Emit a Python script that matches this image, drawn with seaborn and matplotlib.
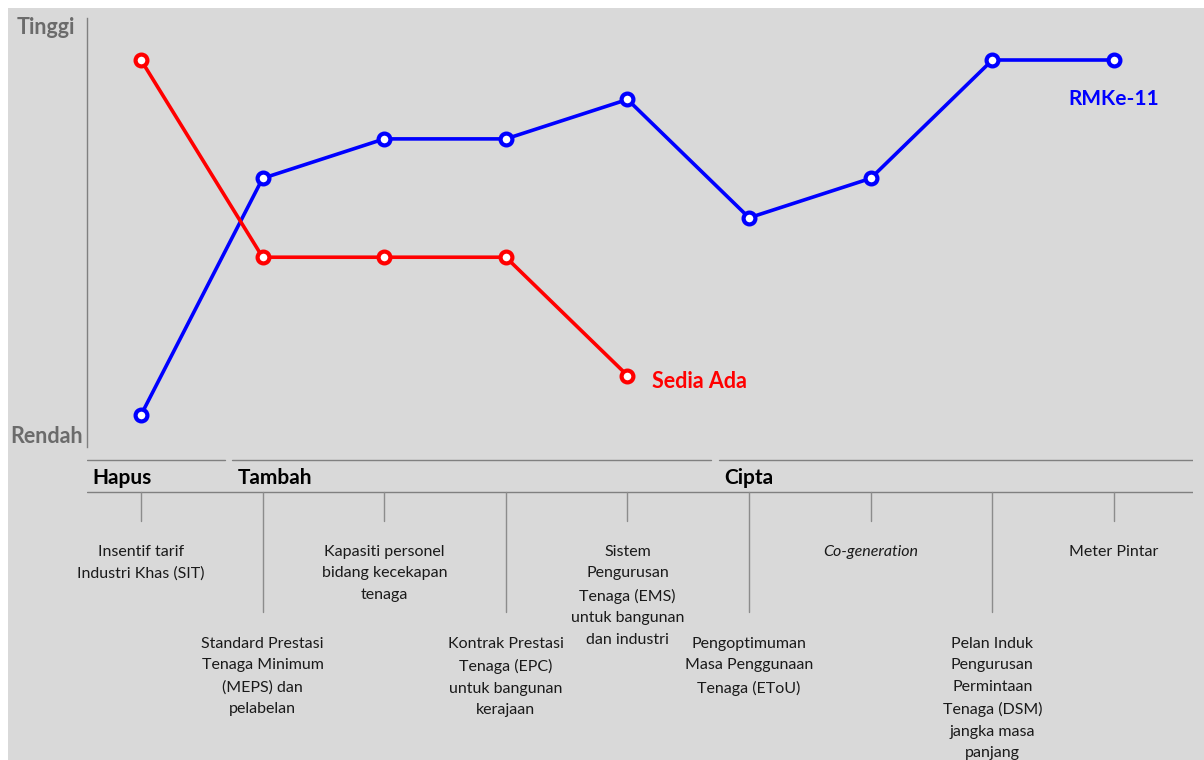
import matplotlib
matplotlib.use("Agg")
import matplotlib.pyplot as plt
import matplotlib.patches as mpatches
import numpy as np
import pandas as pd
import seaborn as sns

# Initiative levels (0 = Rendah, 9 = Tinggi) for each initiative slot
sedia_ada = [9, 4, 4, 4, 1]
rmke_11 = [0, 6, 7, 7, 8, 5, 6, 9, 9]

series_names = ["Sedia Ada", "RMKe-11"]
series_colors = ["#ff0000", "#0000ff"]

level_labels = ["Rendah", "Tinggi"]

group_names = ["Hapus", "Tambah", "Cipta"]
# first and last initiative slot covered by each group
group_spans = [(0, 0), (1, 4), (5, 8)]

initiatives = [
    "Insentif tarif\nIndustri Khas (SIT)",
    "Standard Prestasi\nTenaga Minimum\n(MEPS) dan\npelabelan",
    "Kapasiti personel\nbidang kecekapan\ntenaga",
    "Kontrak Prestasi\nTenaga (EPC)\nuntuk bangunan\nkerajaan",
    "Sistem\nPengurusan\nTenaga (EMS)\nuntuk bangunan\ndan industri",
    "Pengoptimuman\nMasa Penggunaan\nTenaga (EToU)",
    "Co-generation",
    "Pelan Induk\nPengurusan\nPermintaan\nTenaga (DSM)\njangka masa\npanjang",
    "Meter Pintar",
]
italic_items = {"Co-generation"}

sns.set_theme(style="white")
plt.rcParams["font.family"] = ["Lato", "DejaVu Sans"]

W, H = 1204, 760
fig = plt.figure(figsize=(W / 100, H / 100), dpi=100, facecolor="white")

# grey panel behind everything
fig.patches.append(mpatches.Rectangle((8 / W, 0), 1 - 8 / W, 1 - 8 / H,
                                      transform=fig.transFigure,
                                      facecolor="#d9d9d9", edgecolor="none",
                                      zorder=-10))

def px_axes(x0, y0, x1, y1):
    return fig.add_axes([x0 / W, 1 - y1 / H, (x1 - x0) / W, (y1 - y0) / H])

# main chart area
ax = px_axes(87, 18, 1193, 447)
ax.set_facecolor("none")
step = 121.6
xlim = (-(141 - 87) / step, 8 + (1193 - 1114) / step)
ystep = 39.44
ylim = (-(447 - 415) / ystep, 9 + (60 - 18) / ystep)

df = pd.concat([
    pd.DataFrame({"slot": np.arange(len(sedia_ada)), "level": sedia_ada,
                  "series": series_names[0]}),
    pd.DataFrame({"slot": np.arange(len(rmke_11)), "level": rmke_11,
                  "series": series_names[1]}),
])

for name, color in zip(series_names[::-1], series_colors[::-1]):
    sub = df[df["series"] == name]
    sns.lineplot(data=sub, x="slot", y="level", ax=ax, color=color,
                 linewidth=2.6, marker="o", markersize=8.5,
                 markerfacecolor="white", markeredgecolor=color,
                 markeredgewidth=3.0, clip_on=False)

ax.set_xlim(*xlim)
ax.set_ylim(*ylim)
ax.set_xlabel("")
ax.set_ylabel("")
ax.set_xticks([])
ax.set_yticks([])
for s in ["top", "right", "bottom"]:
    ax.spines[s].set_visible(False)
ax.spines["left"].set_color("#808080")
ax.spines["left"].set_linewidth(1.0)

# series labels at line ends
ax.text(len(rmke_11) - 1, rmke_11[-1] - 1, series_names[1], color=series_colors[1],
        fontsize=15, fontweight="bold", ha="center", va="center")
ax.text(len(sedia_ada) - 1 + 0.2, sedia_ada[-1] - 0.15, series_names[0],
        color=series_colors[0], fontsize=15.5, fontweight="bold",
        ha="left", va="center")

# level labels beside the axis
fig.text(45.5 / W, 1 - 27 / H, level_labels[1], color="#6b6b6b", fontsize=15.5,
         fontweight="bold", ha="center", va="center")
fig.text(46.5 / W, 1 - 437 / H, level_labels[0], color="#6b6b6b", fontsize=15.5,
         fontweight="bold", ha="center", va="center")

# lower band: groups and initiative names, y in pixel rows
axb = px_axes(87, 447, 1193, 760)
axb.set_facecolor("none")
axb.set_xlim(*xlim)
axb.set_ylim(760, 447)
axb.axis("off")

for gi, (name, (a, b)) in enumerate(zip(group_names, group_spans)):
    left = xlim[0] if a == 0 else a - 0.25
    right = xlim[1] if b == len(initiatives) - 1 else b + 1 - 0.31
    axb.plot([left, right], [460, 460], color="#808080", lw=1.0)
    axb.text(left + 0.045, 478, name, fontsize=15, fontweight="bold",
             color="black", ha="left", va="center")
axb.plot([xlim[0], xlim[1]], [492, 492], color="#808080", lw=1.0)

for i, label in enumerate(initiatives):
    upper = i % 2 == 0
    tick_end = 521 if upper else 612
    axb.plot([i, i], [492, tick_end], color="#8c8c8c", lw=1.0)
    top = 545 if upper else 637
    axb.text(i, top, label, fontsize=11.5, color="#1a1a1a", ha="center",
             va="top", linespacing=1.68,
             style="italic" if label in italic_items else "normal")

fig.savefig("out.png", dpi=100, facecolor="white")
